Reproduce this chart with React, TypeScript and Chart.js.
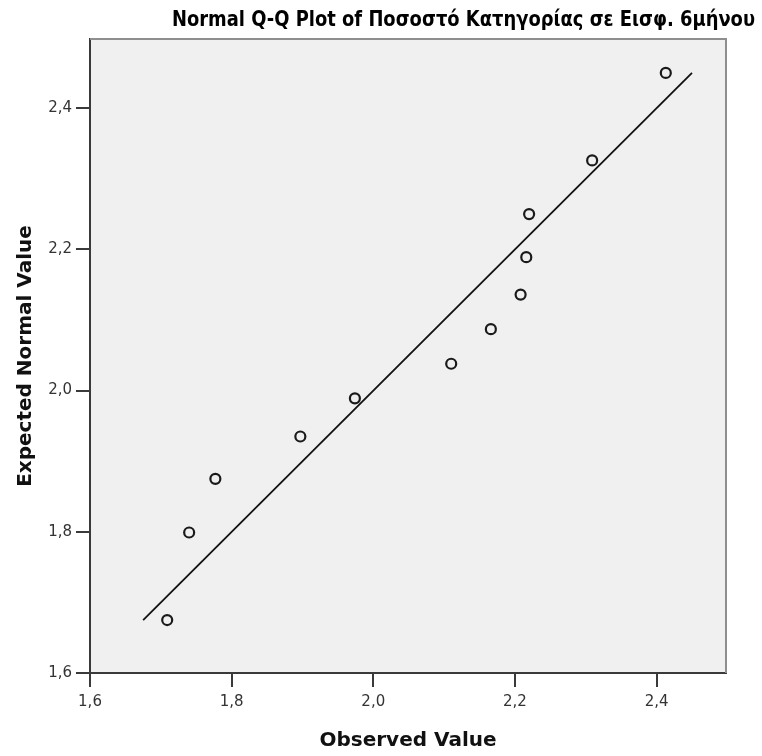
import React, { useEffect, useRef } from "react";
import { Chart, registerables } from "chart.js";

Chart.register(...registerables);

// ---- data ----
const observedValues = [1.709, 1.740, 1.777, 1.897, 1.974, 2.110, 2.166, 2.208, 2.216, 2.220, 2.309, 2.413];
const expectedValues = [1.675, 1.799, 1.875, 1.935, 1.989, 2.038, 2.087, 2.136, 2.189, 2.250, 2.326, 2.450];
const tickValues = [1.6, 1.8, 2.0, 2.2, 2.4];
const axisMin = 1.6;
const axisMax = 2.498;
const titleText = "Normal Q-Q Plot of Ποσοστό Κατηγορίας σε Εισφ. 6μήνου";
const xTitleText = "Observed Value";
const yTitleText = "Expected Normal Value";

const FONT = '"DejaVu Sans", "Liberation Sans", sans-serif';

const fmt = (v: number) => v.toFixed(1).replace(".", ",");

const decorPlugin = {
  id: "decor",
  beforeDraw(chart: any) {
    const { ctx, chartArea: a } = chart;
    ctx.save();
    ctx.fillStyle = "#ffffff";
    ctx.fillRect(0, 0, chart.width, chart.height);
    ctx.fillStyle = "#f0f0f0";
    ctx.fillRect(a.left, a.top, a.right - a.left, a.bottom - a.top);
    ctx.restore();
  },
  afterDraw(chart: any) {
    const { ctx, chartArea: a } = chart;
    ctx.save();
    // top & right frame
    ctx.strokeStyle = "#8e8e8e";
    ctx.lineWidth = 2;
    ctx.beginPath();
    ctx.moveTo(a.left, a.top);
    ctx.lineTo(a.right, a.top);
    ctx.lineTo(a.right, a.bottom);
    ctx.stroke();

    ctx.fillStyle = "#000000";
    // main title (condensed to its width in the reference)
    ctx.font = `bold 21px ${FONT}`;
    ctx.textBaseline = "alphabetic";
    ctx.textAlign = "left";
    const tw = ctx.measureText(titleText).width;
    const target = 583;
    ctx.save();
    ctx.translate(172, 26);
    ctx.scale(target / tw, 1);
    ctx.fillText(titleText, 0, 0);
    ctx.restore();

    // x axis title
    ctx.font = `bold 20px ${FONT}`;
    ctx.textAlign = "center";
    ctx.fillStyle = "#111111";
    ctx.fillText(xTitleText, (a.left + a.right) / 2, 746);

    // y axis title
    ctx.save();
    ctx.translate(31, (a.top + a.bottom) / 2);
    ctx.rotate(-Math.PI / 2);
    ctx.fillText(yTitleText, 0, 0);
    ctx.restore();
    ctx.restore();
  },
};

export default function App() {
  const ref = useRef<HTMLCanvasElement | null>(null);

  useEffect(() => {
    document.body.style.margin = "0";
    const canvas = ref.current;
    if (!canvas) return;
    const points = observedValues.map((x, i) => ({ x, y: expectedValues[i] }));
    const lo = expectedValues[0];
    const hi = expectedValues[expectedValues.length - 1];
    const refLine = [
      { x: lo, y: lo },
      { x: hi, y: hi },
    ];

    const axisCommon = {
      type: "linear" as const,
      min: axisMin,
      max: axisMax,
      afterBuildTicks: (axis: any) => {
        axis.ticks = tickValues.map((v) => ({ value: v }));
      },
      grid: {
        display: true,
        drawOnChartArea: false,
        drawTicks: true,
        tickLength: 14,
        color: "#3a3a3a",
        lineWidth: 2,
      },
      border: { display: true, color: "#3a3a3a", width: 2 },
    };

    const chart = new Chart(canvas, {
      type: "scatter",
      data: {
        datasets: [
          {
            type: "line",
            data: refLine,
            borderColor: "#111111",
            borderWidth: 1.8,
            pointRadius: 0,
            fill: false,
            order: 2,
          } as any,
          {
            type: "scatter",
            data: points,
            pointStyle: "circle",
            pointRadius: 5,
            pointBorderWidth: 2.2,
            borderColor: "#1a1a1a",
            backgroundColor: "rgba(0,0,0,0)",
            order: 1,
          } as any,
        ],
      },
      options: {
        animation: false,
        responsive: false,
        devicePixelRatio: 1,
        layout: { padding: { top: 39, right: 36, left: 0, bottom: 0 } },
        plugins: {
          legend: { display: false },
          title: { display: false },
          tooltip: { enabled: false },
        },
        scales: {
          x: {
            ...axisCommon,
            position: "bottom",
            afterFit: (axis: any) => {
              axis.height = 83;
            },
            ticks: {
              padding: 6,
              color: "#333333",
              font: { family: FONT, size: 15 },
              maxRotation: 0,
              callback: (v: any) => fmt(Number(v)),
            },
          },
          y: {
            ...axisCommon,
            position: "left",
            afterFit: (axis: any) => {
              axis.width = 90;
            },
            ticks: {
              padding: 4,
              color: "#333333",
              font: { family: FONT, size: 15 },
              callback: (v: any) => fmt(Number(v)),
            },
          },
        },
      } as any,
      plugins: [decorPlugin],
    });
    return () => chart.destroy();
  }, []);

  return (
    <div style={{ position: "absolute", left: 0, top: 0, width: 762, height: 756 }}>
      <canvas ref={ref} width={762} height={756} style={{ display: "block", width: 762, height: 756 }} />
    </div>
  );
}
